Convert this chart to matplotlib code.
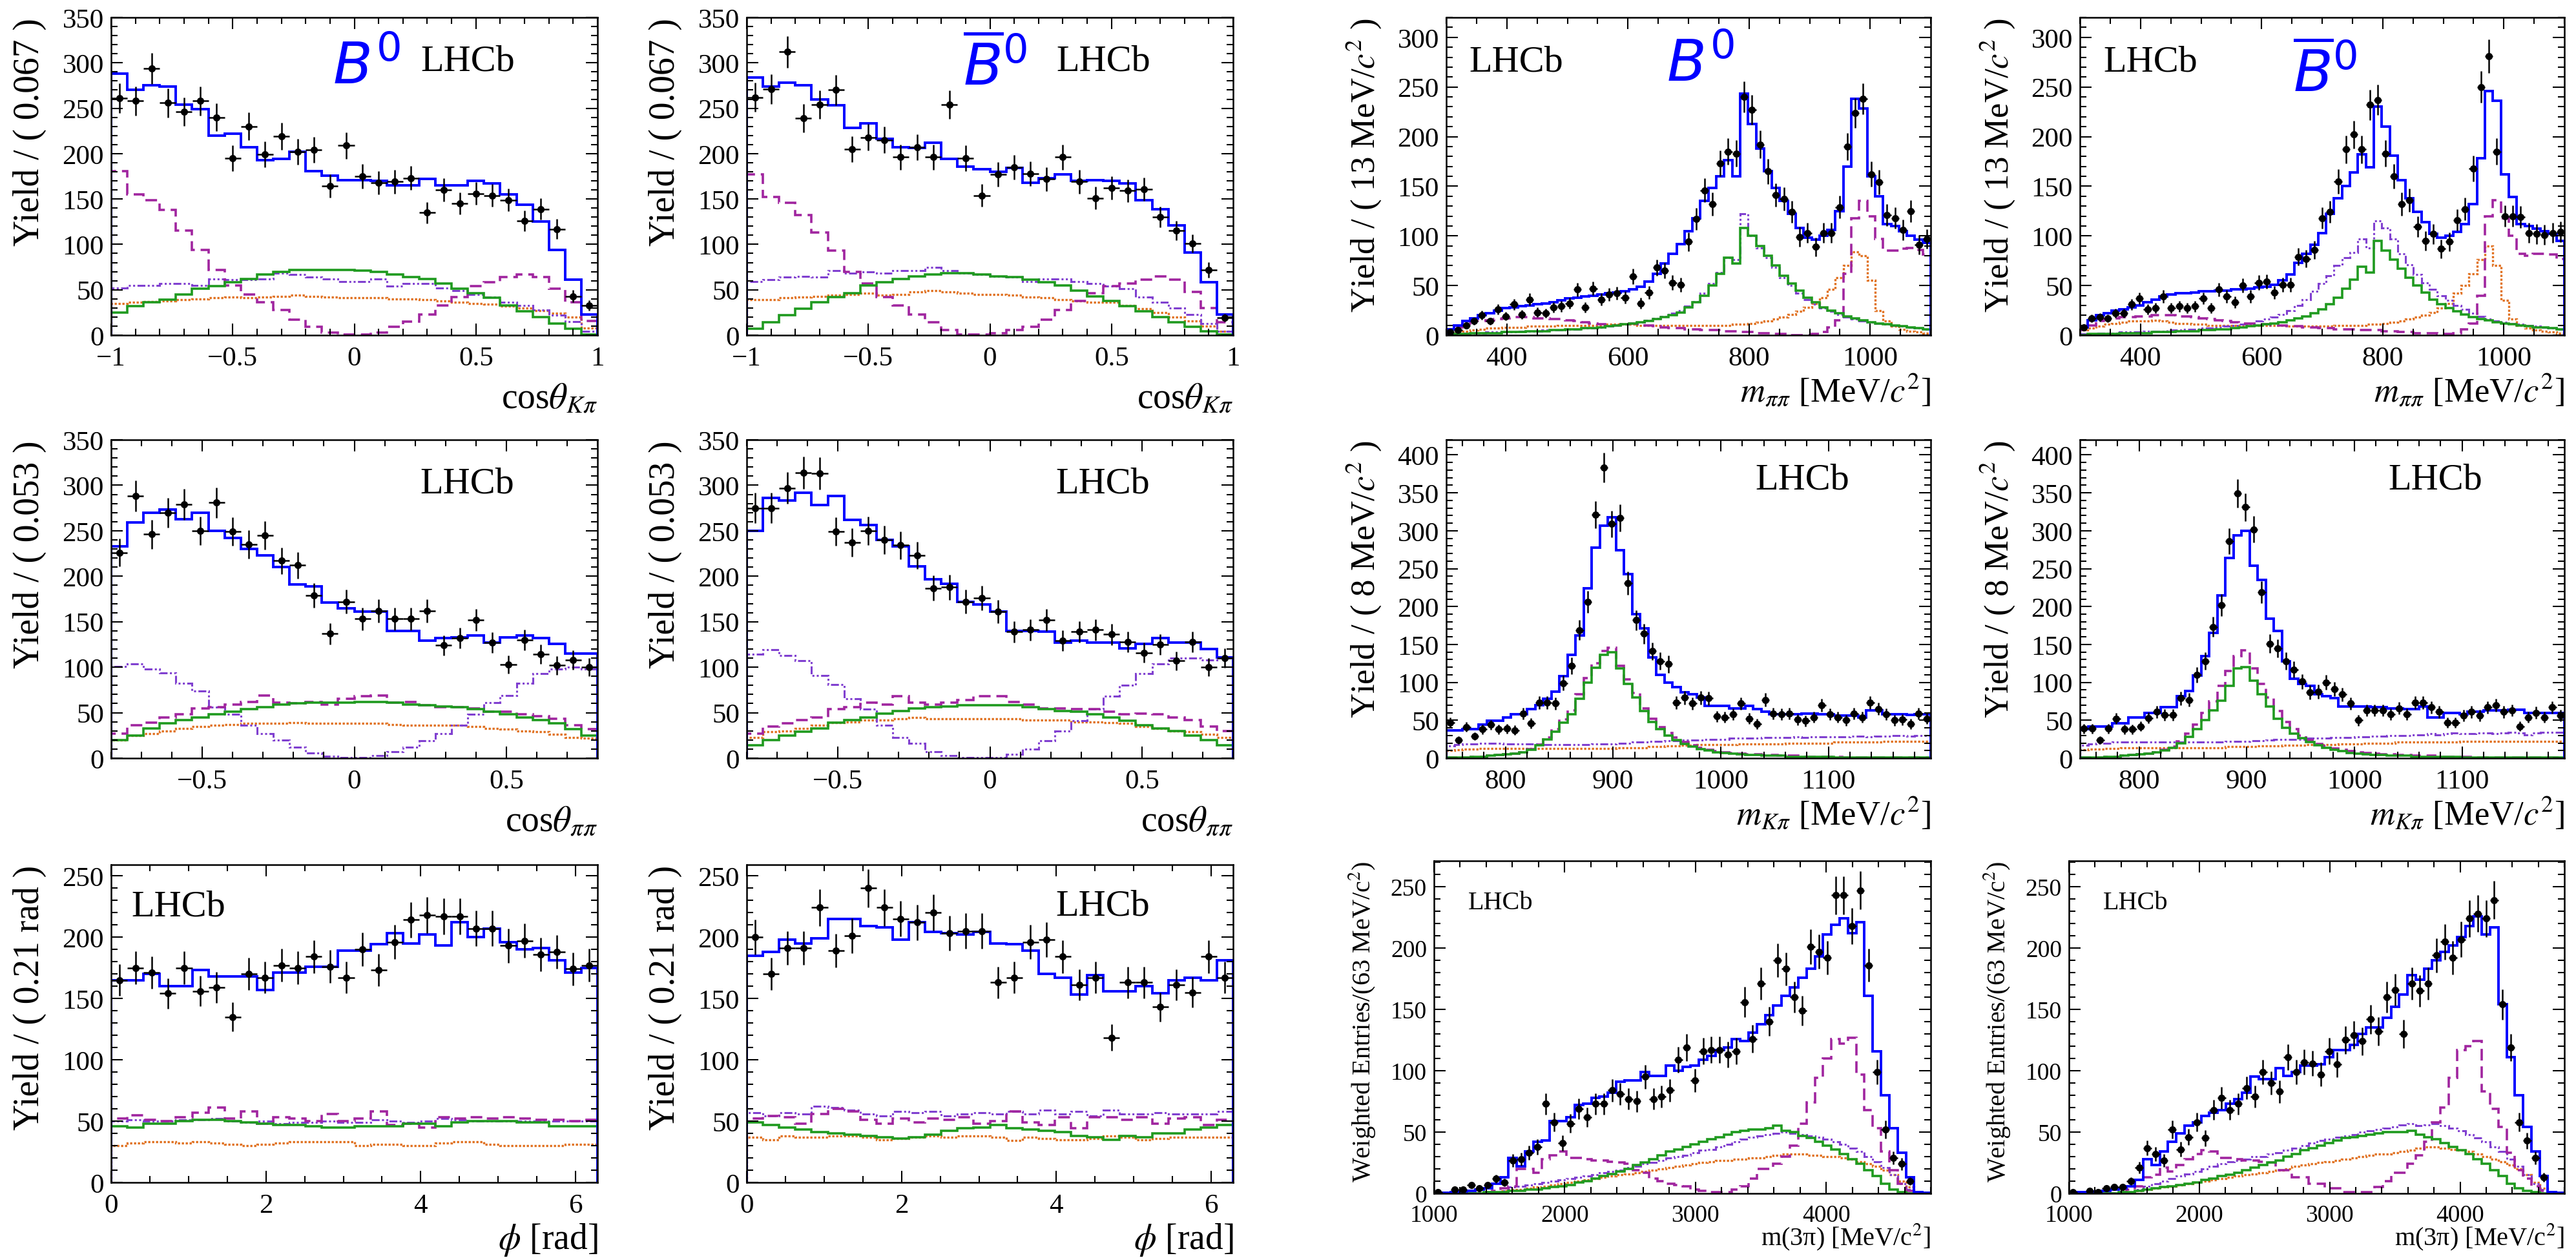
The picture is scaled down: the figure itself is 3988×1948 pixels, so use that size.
import numpy as np
import matplotlib
matplotlib.use("Agg")
import matplotlib.pyplot as plt
from matplotlib.ticker import MultipleLocator, FuncFormatter

nan = np.nan

# ---------------- cos(theta_Kpi) ----------------
ckpi_b0_data = [261, 258, 294, 256, 246, 258, 240, 195, 230, 199, 219, 202, 204, 164, 209,
                175, 168, 169, 173, 135, 160, 145, 156, 154, 149, 126, 139, 117, 43, 33]
ckpi_b0_tot = [288, 270, 275, 274, 254, 249, 220, 222, 207, 193, 194, 202, 181, 176, 171,
               171, 170, 165, 165, 172, 165, 165, 170, 167, 155, 144, 125, 94, 61, 23]
ckpi_b0_grn = [25, 32, 36, 39, 45, 51, 54, 58, 62, 67, 70, 72, 72, 72, 72,
               71, 70, 67, 64, 62, 57, 51, 46, 41, 33, 26, 20, 13, 7, 1]
ckpi_b0_mag = [181, 155, 149, 138, 115, 94, 72, 55, 45, 36, 28, 17, 9, 3, 1,
               1, 3, 9, 15, 23, 33, 42, 54, 58, 64, 67, 64, 51, 36, 16]
ckpi_b0_vio = [52, 55, 55, 57, 57, 55, 62, 61, 61, 62, 68, 67, 64, 62, 59,
               59, 62, 54, 57, 57, 52, 49, 45, 42, 36, 33, 28, 22, 15, 4]
ckpi_b0_ora = [35, 36, 37, 38, 39, 40, 41, 42, 41, 42, 43, 44, 43, 42, 41,
               41, 41, 40, 40, 39, 38, 36, 35, 34, 32, 30, 27, 24, 20, 8]

ckpi_bb_data = [262, 271, 312, 239, 254, 270, 205, 218, 215, 196, 207, 196, 254, 195, 154,
                177, 185, 178, 172, 196, 169, 151, 162, 159, 161, 130, 115, 101, 72, 19]
ckpi_bb_tot = [284, 274, 278, 275, 260, 253, 228, 233, 216, 207, 206, 212, 194, 186, 183,
               180, 184, 168, 173, 177, 170, 171, 170, 167, 149, 139, 121, 91, 58, 23]
ckpi_bb_grn = [7, 14, 22, 29, 36, 42, 46, 55, 58, 62, 65, 67, 68, 68, 67,
               65, 64, 61, 58, 55, 49, 43, 38, 32, 26, 20, 14, 9, 4, 1]
ckpi_bb_mag = [177, 152, 146, 132, 113, 93, 70, 57, 42, 33, 23, 14, 6, 1, 1,
               2, 6, 9, 17, 28, 38, 46, 54, 57, 61, 65, 61, 48, 30, 14]
ckpi_bb_vio = [59, 61, 64, 65, 64, 71, 68, 70, 68, 71, 71, 75, 71, 68, 67,
               65, 64, 59, 62, 62, 59, 57, 54, 51, 42, 36, 30, 23, 13, 4]
ckpi_bb_ora = [39, 39, 41, 42, 43, 44, 45, 46, 44, 45, 48, 49, 48, 46, 45,
               45, 44, 42, 41, 39, 38, 36, 36, 33, 29, 25, 20, 16, 10, 4]

# ---------------- m(pipi) ----------------
mpp_b0_data = [3, 5, 10, 14, 20, 14, 26, 19, 31, 21, 36, 23, 22, 28, 29, 32, 46, 28, 47, 36,
               41, 42, 38, 59, 32, 43, 68, 65, 53, 51, 94, 117, 146, 132, 173, 185, 183, 240, 227, 192,
               165, 141, 137, 124, 99, 103, 89, 103, 103, 129, 190, 224, 238, 162, 154, 121, 118, 106, 125, 91, 97]
mpp_b0_tot = [6, 10, 14, 17, 20, 22, 25, 27, 28, 29, 30, 31, 32, 33, 35, 37, 38, 39, 40, 41,
              42, 43, 44, 46, 49, 54, 62, 72, 82, 92, 105, 118, 135, 148, 160, 176, 160, 243, 213, 188,
              165, 148, 135, 122, 108, 98, 96, 100, 106, 125, 170, 238, 228, 160, 140, 112, 110, 105, 100, 96, 93]
mpp_b0_grn = [1, 1, 1, 2, 2, 2, 2, 3, 3, 3, 4, 4, 4, 5, 5, 6, 6, 7, 7, 8,
              9, 10, 11, 12, 13, 14, 16, 18, 20, 23, 28, 33, 40, 50, 62, 78, 72, 108, 100, 90,
              80, 70, 60, 52, 45, 38, 33, 28, 25, 22, 19, 17, 15, 13, 12, 11, 10, 9, 8, 7, 6]
mpp_b0_mag = [5, 8, 12, 14, 14, 15, 16, 17, 18, 18, 18, 17, 17, 16, 16, 15, 14, 13, 12, 11,
              10, 10, 11, 12, 11, 10, 9, 8, 7, 7, 6, 6, 5, 5, 5, 4, 4, 3, 3, 2,
              2, 1, 1, 0, 0, 0, 1, 3, 8, 15, 62, 118, 135, 120, 97, 85, 85, 87, 88, 86, 81]
mpp_b0_vio = [1, 1, 2, 2, 2, 3, 3, 3, 3, 4, 4, 4, 5, 5, 5, 6, 6, 7, 7, 8,
              9, 10, 11, 12, 13, 15, 17, 19, 22, 25, 29, 34, 42, 52, 63, 78, 76, 122, 100, 88,
              78, 68, 58, 50, 42, 36, 31, 27, 24, 21, 18, 16, 14, 13, 12, 11, 10, 9, 8, 7, 6]
mpp_b0_ora = [2, 3, 4, 5, 6, 7, 7, 8, 8, 8, 9, 9, 9, 9, 10, 10, 10, 10, 10, 10,
              11, 11, 11, 11, 10, 10, 10, 10, 10, 10, 10, 10, 10, 10, 10, 10, 11, 11, 12, 13,
              14, 16, 18, 21, 24, 28, 32, 38, 46, 58, 70, 84, 80, 55, 25, 14, 9, 6, 4, 3, 2]

mpp_bb_data = [8, 17, 18, 17, 22, 22, 31, 37, 26, 27, 39, 27, 29, 27, 29, 37, 27, 46, 39, 33,
               50, 39, 53, 54, 43, 51, 51, 79, 77, 86, 118, 124, 155, 187, 202, 187, 232, 237, 183, 160,
               132, 136, 109, 95, 102, 87, 94, 116, 127, 168, 250, 281, 185, 120, 120, 119, 103, 102, 101, 103, 104]
mpp_bb_tot = [8, 15, 20, 22, 25, 26, 28, 30, 33, 36, 39, 41, 42, 42, 43, 44, 44, 45, 45, 46,
              46, 47, 48, 49, 51, 55, 61, 73, 82, 91, 103, 122, 138, 150, 164, 182, 169, 230, 210, 181,
              156, 138, 124, 114, 102, 98, 100, 104, 112, 132, 178, 246, 236, 162, 139, 112, 110, 107, 105, 102, 95]
mpp_bb_grn = [0, 1, 1, 1, 1, 2, 2, 2, 2, 3, 3, 3, 4, 4, 4, 5, 5, 6, 6, 7,
              8, 9, 10, 11, 12, 13, 15, 17, 19, 22, 26, 31, 38, 47, 56, 69, 63, 95, 85, 76,
              67, 58, 50, 43, 36, 31, 27, 24, 21, 18, 16, 15, 13, 12, 11, 10, 9, 8, 8, 7, 6]
mpp_bb_mag = [5, 10, 14, 16, 17, 18, 18, 19, 19, 20, 20, 20, 19, 19, 18, 17, 16, 15, 14, 13,
              12, 12, 11, 11, 10, 10, 9, 9, 8, 8, 7, 7, 6, 6, 6, 5, 5, 5, 4, 4,
              3, 3, 2, 2, 2, 1, 1, 2, 6, 12, 40, 120, 136, 118, 100, 82, 80, 82, 82, 81, 77]
mpp_bb_vio = [1, 1, 2, 2, 2, 3, 3, 3, 4, 4, 4, 5, 5, 6, 6, 7, 7, 8, 9, 10,
              11, 12, 14, 16, 18, 21, 25, 30, 36, 44, 52, 60, 70, 78, 83, 97, 88, 115, 108, 97,
              82, 71, 61, 53, 46, 40, 35, 30, 26, 22, 19, 16, 14, 13, 12, 11, 10, 9, 8, 7, 6]
mpp_bb_ora = [5, 7, 9, 11, 12, 13, 14, 14, 14, 15, 14, 13, 12, 12, 11, 11, 10, 10, 10, 10,
              10, 10, 10, 10, 10, 10, 9, 9, 9, 9, 9, 9, 10, 10, 10, 10, 11, 11, 12, 13,
              14, 16, 18, 20, 23, 27, 32, 42, 50, 62, 76, 90, 70, 35, 16, 10, 7, 5, 4, 3, 2]

# ---------------- cos(theta_pipi) ----------------
cpp_b0_data = [226, 288, 246, 270, 279, 250, 281, 249, 235, 245, 217, 212, 179, 137, 172,
               153, 162, 153, 153, 162, 124, 132, 152, 127, 103, 130, 114, 102, 108, 100]
cpp_b0_tot = [233, 259, 270, 273, 263, 270, 250, 242, 230, 223, 210, 191, 189, 171, 165,
              161, 161, 140, 140, 129, 132, 133, 135, 127, 133, 135, 132, 126, 115, 115]
cpp_b0_grn = [20, 25, 33, 38, 42, 45, 48, 51, 54, 56, 59, 60, 61, 61, 61,
              62, 62, 61, 59, 58, 57, 56, 54, 51, 48, 45, 42, 38, 32, 25]
cpp_b0_mag = [27, 36, 39, 45, 48, 55, 56, 59, 62, 69, 61, 60, 62, 59, 65,
              68, 69, 61, 62, 58, 56, 56, 55, 51, 51, 48, 46, 43, 36, 32]
cpp_b0_vio = [101, 104, 98, 94, 82, 74, 56, 48, 36, 27, 20, 12, 6, 2, 1,
              1, 3, 7, 12, 19, 27, 36, 48, 61, 69, 82, 93, 98, 100, 98]
cpp_b0_ora = [20, 25, 27, 30, 33, 35, 36, 37, 38, 38, 38, 39, 38, 38, 38,
              38, 38, 37, 36, 36, 36, 36, 35, 33, 32, 30, 29, 26, 23, 22]

cpp_bb_data = [275, 275, 297, 314, 313, 249, 237, 250, 240, 234, 223, 187, 188, 172, 176,
               161, 139, 141, 152, 129, 139, 141, 136, 128, 116, 125, 107, 128, 100, 110]
cpp_bb_tot = [250, 286, 283, 292, 278, 288, 262, 256, 240, 233, 211, 197, 192, 172, 169,
              161, 140, 140, 139, 127, 129, 127, 127, 121, 126, 132, 127, 127, 120, 111]
cpp_bb_grn = [14, 20, 25, 29, 33, 39, 42, 45, 49, 52, 55, 56, 57, 58, 58,
              58, 58, 56, 54, 52, 51, 48, 45, 41, 36, 33, 30, 25, 20, 14]
cpp_bb_mag = [27, 35, 38, 42, 45, 54, 56, 61, 59, 68, 61, 59, 61, 64, 68,
              68, 62, 59, 55, 55, 54, 54, 51, 48, 49, 48, 45, 42, 35, 30]
cpp_bb_vio = [114, 119, 113, 107, 91, 81, 65, 54, 36, 23, 16, 7, 3, 1, 1,
              1, 4, 10, 19, 30, 41, 54, 68, 80, 93, 104, 110, 110, 108, 110]
cpp_bb_ora = [23, 29, 30, 33, 36, 39, 40, 42, 42, 43, 45, 43, 43, 43, 43,
              43, 43, 42, 42, 42, 40, 40, 39, 38, 35, 33, 30, 29, 26, 23]

# ---------------- m(Kpi) ----------------
mkp_b0_data = [47, 24, 41, 29, 38, 44, 38, 39, 37, 59, 46, 73, 73, 72, 99, 122, 169, 206, 321, 383,
               309, 317, 231, 182, 164, 141, 128, 124, 73, 80, 72, 80, 79, 55, 54, 58, 72, 52, 45, 77,
               59, 58, 59, 51, 49, 54, 70, 58, 54, 50, 59, 54, 73, 65, 58, 50, 51, 45, 59, 52]
mkp_b0_tot = [37, 37, 38, 38, 44, 49, 49, 54, 58, 58, 65, 70, 78, 88, 108, 136, 162, 224, 278, 307,
              318, 274, 243, 190, 171, 133, 110, 100, 94, 87, 84, 80, 69, 69, 69, 66, 66, 69, 65, 61,
              58, 58, 58, 58, 59, 59, 58, 58, 56, 56, 56, 54, 63, 63, 58, 58, 58, 57, 58, 58]
mkp_b0_grn = [1, 1, 1, 2, 2, 3, 4, 5, 6, 8, 11, 17, 25, 35, 47, 58, 78, 100, 119, 136,
              140, 118, 98, 80, 62, 48, 38, 30, 24, 19, 15, 12, 10, 8, 7, 6, 5, 4, 4, 3,
              3, 3, 2, 2, 2, 2, 2, 2, 1, 1, 1, 1, 1, 1, 1, 1, 1, 1, 1, 1]
mkp_b0_mag = [1, 1, 1, 2, 2, 3, 4, 5, 6, 8, 12, 18, 27, 38, 51, 63, 84, 106, 125, 141,
              146, 122, 104, 86, 66, 52, 41, 33, 27, 21, 17, 14, 11, 9, 8, 7, 6, 5, 5, 4,
              4, 3, 3, 3, 2, 2, 2, 2, 2, 1, 1, 1, 1, 1, 1, 1, 1, 1, 1, 1]
mkp_b0_vio = [16, 18, 19, 19, 20, 20, 20, 19, 19, 19, 19, 19, 18, 18, 18, 18, 18, 18, 19, 19,
              19, 20, 20, 21, 21, 22, 22, 23, 23, 24, 24, 24, 25, 25, 25, 26, 26, 26, 26, 27,
              27, 27, 27, 28, 27, 28, 28, 28, 28, 28, 29, 29, 28, 29, 29, 30, 30, 29, 30, 30]
mkp_b0_ora = [10, 11, 12, 12, 13, 13, 13, 13, 13, 13, 13, 13, 13, 13, 13, 13, 13, 13, 13, 13,
              13, 14, 14, 14, 14, 15, 15, 16, 16, 17, 17, 18, 18, 18, 18, 18, 19, 19, 19, 19,
              19, 19, 20, 20, 20, 20, 20, 20, 21, 21, 21, 21, 21, 21, 22, 22, 22, 22, 22, 22]

mkp_bb_data = [39, 39, 24, 39, 52, 38, 38, 42, 53, 61, 57, 57, 79, 77, 110, 128, 173, 202, 286, 349,
               331, 302, 219, 151, 145, 128, 117, 101, 87, 88, 100, 91, 84, 72, 50, 63, 63, 63, 58, 66,
               58, 73, 73, 67, 61, 47, 47, 56, 61, 56, 67, 70, 61, 63, 42, 54, 60, 54, 67, 56]
mkp_bb_tot = [38, 42, 42, 42, 46, 46, 54, 54, 60, 60, 67, 67, 82, 89, 109, 135, 165, 215, 264, 294,
              300, 254, 235, 184, 168, 128, 105, 98, 95, 84, 82, 79, 68, 68, 68, 68, 67, 67, 66, 66,
              65, 65, 68, 54, 54, 60, 60, 58, 61, 61, 63, 63, 63, 64, 64, 60, 60, 60, 60, 60]
mkp_bb_grn = [1, 1, 1, 2, 2, 3, 4, 5, 6, 8, 10, 14, 20, 28, 38, 50, 63, 76, 95, 118,
              120, 102, 84, 68, 52, 40, 32, 26, 21, 17, 14, 11, 9, 7, 6, 5, 4, 4, 3, 3,
              3, 2, 2, 2, 2, 2, 2, 1, 1, 1, 1, 1, 1, 1, 1, 1, 1, 1, 1, 1]
mkp_bb_mag = [1, 1, 1, 2, 2, 3, 4, 5, 6, 8, 11, 15, 22, 32, 44, 60, 75, 95, 115, 135,
              142, 118, 98, 80, 62, 48, 38, 30, 24, 19, 16, 13, 11, 9, 8, 7, 6, 5, 5, 4,
              4, 3, 3, 3, 2, 2, 2, 2, 2, 1, 1, 1, 1, 1, 1, 1, 1, 1, 1, 1]
mkp_bb_vio = [17, 19, 20, 20, 21, 21, 21, 21, 21, 21, 21, 21, 21, 21, 21, 21, 21, 21, 22, 22,
              22, 23, 23, 24, 25, 25, 25, 25, 26, 26, 26, 27, 27, 27, 28, 28, 29, 29, 30, 30,
              30, 31, 31, 32, 31, 32, 33, 32, 32, 33, 33, 32, 33, 34, 33, 31, 33, 34, 34, 34]
mkp_bb_ora = [11, 12, 12, 13, 13, 14, 14, 14, 14, 14, 14, 14, 14, 14, 14, 14, 14, 14, 15, 15,
              15, 15, 16, 16, 16, 17, 17, 17, 18, 18, 18, 18, 19, 19, 19, 20, 20, 20, 20, 21,
              21, 21, 21, 21, 21, 21, 21, 22, 22, 22, 22, 22, 22, 22, 22, 22, 22, 22, 22, 22]

# ---------------- phi ----------------
phi_b0_data = [165, 175, 171, 154, 175, 156, 159, 135, 170, 167, 177, 175, 184, 176, 167,
               190, 173, 196, 214, 218, 217, 217, 207, 207, 193, 197, 186, 188, 174, 177]
phi_b0_tot = [165, 165, 170, 160, 160, 173, 168, 168, 168, 157, 171, 171, 176, 176, 189,
              189, 194, 203, 195, 202, 193, 212, 200, 207, 196, 190, 191, 181, 171, 175]
phi_b0_grn = [46, 45, 48, 48, 50, 51, 51, 50, 49, 48, 47, 47, 46, 45, 45,
              46, 46, 46, 48, 48, 46, 49, 50, 50, 50, 49, 49, 46, 46, 46]
phi_b0_mag = [52, 55, 51, 50, 53, 57, 61, 52, 58, 48, 53, 52, 50, 56, 50,
              52, 58, 47, 48, 45, 53, 52, 53, 52, 53, 52, 51, 51, 50, 51]
phi_b0_vio = [50, 51, 50, 50, 51, 51, 52, 50, 49, 50, 48, 49, 49, 50, 49,
              49, 51, 50, 49, 50, 52, 51, 50, 50, 50, 50, 50, 50, 50, 50]
phi_b0_ora = [30, 32, 33, 33, 32, 33, 32, 31, 30, 31, 32, 33, 33, 33, 33,
              30, 31, 31, 30, 30, 32, 33, 33, 31, 30, 30, 30, 30, 31, 31]

phi_bb_data = [200, 170, 191, 191, 224, 189, 201, 240, 224, 215, 212, 220, 203, 205, 205,
               163, 167, 196, 198, 184, 161, 167, 118, 163, 163, 143, 161, 155, 184, 167]
phi_bb_tot = [185, 188, 198, 195, 199, 215, 215, 209, 208, 198, 212, 204, 203, 202, 204,
              195, 194, 189, 170, 167, 153, 169, 156, 156, 160, 154, 165, 167, 165, 181]
phi_bb_grn = [49, 47, 45, 43, 41, 40, 39, 38, 37, 36, 37, 39, 42, 44, 45,
              47, 44, 43, 42, 41, 38, 37, 35, 38, 37, 40, 40, 43, 45, 47]
phi_bb_mag = [52, 54, 53, 48, 56, 60, 58, 51, 48, 52, 49, 52, 51, 53, 48,
              50, 58, 49, 47, 53, 44, 53, 53, 51, 53, 48, 52, 53, 47, 51]
phi_bb_vio = [57, 54, 57, 56, 62, 61, 59, 56, 54, 58, 57, 58, 54, 56, 57,
              56, 58, 56, 59, 56, 58, 54, 59, 56, 56, 57, 56, 56, 56, 58]
phi_bb_ora = [37, 35, 38, 37, 37, 38, 38, 37, 35, 36, 37, 38, 37, 38, 38,
              37, 34, 37, 36, 35, 35, 36, 38, 37, 35, 36, 37, 37, 37, 37]

# ---------------- m(3pi) ----------------
m3p_b0_data = [1, nan, 3, 3, 7, 4, 7, 12, 9, 27, 28, 33, 38, 73, 58, 41, 57, 69, 62, 73,
               73, 84, 81, 77, 75, 95, 77, 79, 84, 109, 119, 92, 116, 117, 117, 113, 116, 156, 126, 171,
               140, 190, 183, 160, 149, 201, 197, 192, 243, 243, 218, 247, 186, 99, 52, 29, 24, 10, nan, nan]
m3p_b0_tot = [0.5, 0.5, 1, 1.5, 2, 3, 4, 8, 13, 29, 22, 34, 42, 43, 59, 59, 62, 72, 73, 78,
              79, 82, 91, 92, 92, 99, 96, 96, 104, 100, 103, 104, 109, 112, 117, 119, 126, 124, 131, 138,
              145, 153, 161, 168, 176, 183, 193, 211, 219, 224, 212, 221, 161, 116, 80, 53, 33, 13, 1, 0.5]
m3p_b0_grn = [0, 0, 0, 0, 0, 0, 1, 1, 1, 2, 2, 3, 3, 4, 5, 6, 7, 9, 10, 12,
              14, 16, 18, 20, 23, 25, 28, 31, 34, 36, 38, 40, 42, 44, 46, 48, 50, 51, 52, 52,
              53, 55, 51, 50, 47, 45, 42, 39, 36, 32, 28, 24, 19, 14, 8, 3, 1, 0, 0, 0]
m3p_b0_mag = [0, 0, 0, 0, 0, 0, 1, 2, 4, 6, 20, 20, 17, 28, 31, 34, 29, 29, 28, 27,
              27, 26, 25, 24, 19, 17, 12, 10, 8, 7, 6, 3, 2, 1, 1, 1, 3, 6, 12, 20,
              20, 24, 30, 39, 57, 74, 94, 110, 126, 122, 127, 97, 68, 53, 34, 19, 8, 2, 0, 0]
m3p_b0_vio = [0, 0, 0, 0, 0, 0, 0, 1, 2, 5, 6, 7, 8, 9, 10, 11, 12, 13, 14, 15,
              17, 18, 19, 21, 22, 24, 25, 27, 29, 30, 31, 33, 35, 36, 38, 40, 42, 44, 46, 47,
              48, 49, 50, 49, 48, 47, 46, 44, 42, 40, 37, 34, 30, 26, 21, 15, 8, 3, 0, 0]
m3p_b0_ora = [0, 0, 0, 0, 0, 0, 0, 1, 2, 3, 3, 4, 5, 6, 7, 8, 9, 10, 11, 12,
              13, 14, 15, 16, 17, 18, 19, 20, 21, 22, 23, 24, 25, 26, 27, 27, 28, 28, 29, 29,
              30, 31, 32, 32, 32, 31, 31, 30, 30, 29, 28, 26, 24, 22, 19, 15, 10, 5, 1, 0]

m3p_bb_data = [1, nan, 2, 1, 4, 5, 5, 10, 21, 37, 32, 27, 52, 36, 46, 58, 45, 68, 78, 68,
               73, 86, 79, 99, 90, 83, 111, 99, 107, 106, 97, 116, 105, 125, 129, 124, 142, 132, 160, 166,
               130, 171, 165, 171, 194, 205, 192, 207, 224, 228, 224, 239, 154, 119, 58, 43, 29, 13, nan, nan]
m3p_bb_tot = [0.5, 1, 1, 1.5, 2, 3, 4, 6, 11, 28, 23, 34, 42, 49, 55, 58, 63, 66, 68, 73,
              77, 82, 95, 93, 93, 102, 96, 99, 104, 104, 105, 111, 117, 117, 121, 130, 135, 135, 143, 152,
              162, 178, 174, 183, 190, 197, 202, 209, 218, 226, 211, 217, 154, 111, 80, 54, 34, 14, 1, 0.5]
m3p_bb_grn = [0, 0, 0, 0, 0, 0, 1, 1, 2, 3, 4, 5, 6, 7, 8, 9, 11, 12, 14, 15,
              17, 19, 21, 23, 25, 27, 30, 32, 35, 37, 39, 41, 43, 45, 46, 47, 48, 49, 50, 50,
              50, 51, 48, 46, 44, 41, 38, 35, 32, 28, 24, 19, 14, 8, 4, 2, 1, 0, 0, 0]
m3p_bb_mag = [0, 0, 0, 0, 0, 0, 1, 3, 6, 13, 15, 21, 18, 23, 28, 32, 35, 34, 29, 29,
              28, 27, 27, 26, 25, 19, 19, 13, 13, 8, 8, 4, 4, 1, 1, 1, 1, 5, 10, 17,
              17, 24, 31, 42, 58, 70, 94, 117, 120, 124, 83, 69, 54, 33, 19, 12, 6, 2, 0, 0]
m3p_bb_vio = [0, 0, 0, 0, 0, 0, 1, 1, 3, 6, 8, 10, 12, 14, 16, 18, 20, 22, 24, 26,
              27, 28, 30, 30, 32, 33, 35, 37, 39, 41, 43, 44, 46, 47, 48, 50, 51, 52, 53, 54,
              56, 57, 55, 56, 57, 55, 53, 51, 48, 45, 42, 38, 34, 28, 22, 15, 8, 3, 0, 0]
m3p_bb_ora = [0, 0, 0, 0, 0, 0, 0, 1, 2, 3, 4, 5, 6, 7, 8, 9, 10, 11, 12, 13,
              14, 15, 16, 17, 18, 19, 20, 22, 23, 24, 25, 26, 27, 28, 29, 30, 31, 32, 32, 33,
              34, 35, 37, 38, 38, 37, 36, 35, 34, 32, 30, 28, 26, 23, 20, 15, 9, 4, 1, 0]

# ---------------- style ----------------
plt.rcParams["font.family"] = "Liberation Serif"
plt.rcParams["mathtext.fontset"] = "stix"

BLUE = "#0000ff"
GREEN = "#1f9a1f"
MAGENTA = "#a0259f"
VIOLET = "#8040d0"
ORANGE = "#e0701e"

W, H = 3988, 1949


def frame(x0, y0, x1, y1):
    return [x0 / W, 1 - y1 / H, (x1 - x0) / W, (y1 - y0) / H]


def tick_fmt(v, pos):
    return ("%g" % v).replace("-", "\u2212")


def draw_panel(ax, lo, hi, data, tot, grn, mag, vio, ora):
    def edges(v):
        return np.linspace(lo, hi, len(v) + 1)

    ax.stairs(ora, edges(ora), baseline=0, color=ORANGE, lw=2.4, ls=(0, (1, 0.8)))
    ax.stairs(vio, edges(vio), baseline=0, color=VIOLET, lw=2.2, ls=(0, (4, 1.2, 1, 1.2, 1, 1.2)))
    ax.stairs(mag, edges(mag), baseline=0, color=MAGENTA, lw=2.6, ls=(0, (5, 2.5)))
    ax.stairs(grn, edges(grn), baseline=0, color=GREEN, lw=2.6)
    ax.stairs(tot, edges(tot), baseline=0, color=BLUE, lw=2.8)

    e = edges(data)
    xc = 0.5 * (e[1:] + e[:-1])
    hw = 0.5 * (e[1] - e[0])
    y = np.asarray(data, float)
    ok = ~np.isnan(y)
    ax.errorbar(xc[ok], y[ok], yerr=np.sqrt(np.maximum(y[ok], 1)), xerr=hw,
                fmt="o", ms=7, color="k", elinewidth=1.8, capsize=0, zorder=5)
    ax.set_xlim(lo, hi)


fig = plt.figure(figsize=(W / 100, H / 100), dpi=100)

R0 = (28, 520)
R1 = (682, 1175)
R2 = (1340, 1832)
R2m = (1334, 1849)
C0 = (172, 925)
C1 = (1156, 1909)
C2 = (2239, 2989)
C3 = (3220, 3970)
C2m = (2220, 2989)
C3m = (3203, 3970)

ylab_ckpi = "Yield / ( 0.067 )"
ylab_cpp = "Yield / ( 0.053 )"
ylab_phi = "Yield / ( 0.21 rad )"
ylab_mpp = r"Yield / ( 13 MeV/$c^{2}$ )"
ylab_mkp = r"Yield / ( 8 MeV/$c^{2}$ )"
ylab_m3p = r"Weighted Entries/(63 MeV/c$^{2}$)"

panels = [
    dict(col=C0, row=R0, lo=-1, hi=1, ylim=350, series=(ckpi_b0_data, ckpi_b0_tot, ckpi_b0_grn, ckpi_b0_mag, ckpi_b0_vio, ckpi_b0_ora),
         xl=r"cos$\theta_{K\pi}$", yl=ylab_ckpi, xmaj=0.5, xmin=0.1, lhcb=(0.636, 0.862), tag=r"$B^0$", tagpos=(0.455, 0.84), kind="ang"),
    dict(col=C1, row=R0, lo=-1, hi=1, ylim=350, series=(ckpi_bb_data, ckpi_bb_tot, ckpi_bb_grn, ckpi_bb_mag, ckpi_bb_vio, ckpi_bb_ora),
         xl=r"cos$\theta_{K\pi}$", yl=ylab_ckpi, xmaj=0.5, xmin=0.1, lhcb=(0.636, 0.862), tag=r"$\overline{B}^0$", tagpos=(0.445, 0.84), kind="ang"),
    dict(col=C2, row=R0, lo=300, hi=1100, ylim=320, series=(mpp_b0_data, mpp_b0_tot, mpp_b0_grn, mpp_b0_mag, mpp_b0_vio, mpp_b0_ora),
         xl=r"$m_{\pi\pi}$ [MeV/$c^{2}$]", yl=ylab_mpp, xmaj=200, xmin=50, lhcb=(0.047, 0.861), tag=r"$B^0$", tagpos=(0.455, 0.849), kind="mass"),
    dict(col=C3, row=R0, lo=300, hi=1100, ylim=320, series=(mpp_bb_data, mpp_bb_tot, mpp_bb_grn, mpp_bb_mag, mpp_bb_vio, mpp_bb_ora),
         xl=r"$m_{\pi\pi}$ [MeV/$c^{2}$]", yl=ylab_mpp, xmaj=200, xmin=50, lhcb=(0.048, 0.861), tag=r"$\overline{B}^0$", tagpos=(0.44, 0.82), kind="mass"),
    dict(col=C0, row=R1, lo=-0.8, hi=0.8, ylim=350, series=(cpp_b0_data, cpp_b0_tot, cpp_b0_grn, cpp_b0_mag, cpp_b0_vio, cpp_b0_ora),
         xl=r"cos$\theta_{\pi\pi}$", yl=ylab_cpp, xmaj=0.5, xmin=0.1, lhcb=(0.635, 0.864), tag=None, kind="ang"),
    dict(col=C1, row=R1, lo=-0.8, hi=0.8, ylim=350, series=(cpp_bb_data, cpp_bb_tot, cpp_bb_grn, cpp_bb_mag, cpp_bb_vio, cpp_bb_ora),
         xl=r"cos$\theta_{\pi\pi}$", yl=ylab_cpp, xmaj=0.5, xmin=0.1, lhcb=(0.635, 0.864), tag=None, kind="ang"),
    dict(col=C2, row=R1, lo=745, hi=1195, ylim=420, series=(mkp_b0_data, mkp_b0_tot, mkp_b0_grn, mkp_b0_mag, mkp_b0_vio, mkp_b0_ora),
         xl=r"$m_{K\pi}$ [MeV/$c^{2}$]", yl=ylab_mkp, xmaj=100, xmin=20, lhcb=(0.638, 0.876), tag=None, kind="mass"),
    dict(col=C3, row=R1, lo=745, hi=1195, ylim=420, series=(mkp_bb_data, mkp_bb_tot, mkp_bb_grn, mkp_bb_mag, mkp_bb_vio, mkp_bb_ora),
         xl=r"$m_{K\pi}$ [MeV/$c^{2}$]", yl=ylab_mkp, xmaj=100, xmin=20, lhcb=(0.637, 0.876), tag=None, kind="mass"),
    dict(col=C0, row=R2, lo=0, hi=2 * np.pi, ylim=259, series=(phi_b0_data, phi_b0_tot, phi_b0_grn, phi_b0_mag, phi_b0_vio, phi_b0_ora),
         xl=r"$\phi$ [rad]", yl=ylab_phi, xmaj=2, xmin=0.5, lhcb=(0.042, 0.868), tag=None, kind="phi"),
    dict(col=C1, row=R2, lo=0, hi=2 * np.pi, ylim=259, series=(phi_bb_data, phi_bb_tot, phi_bb_grn, phi_bb_mag, phi_bb_vio, phi_bb_ora),
         xl=r"$\phi$ [rad]", yl=ylab_phi, xmaj=2, xmin=0.5, lhcb=(0.635, 0.87), tag=None, kind="phi"),
    dict(col=C2m, row=R2m, lo=1000, hi=4800, ylim=271, series=(m3p_b0_data, m3p_b0_tot, m3p_b0_grn, m3p_b0_mag, m3p_b0_vio, m3p_b0_ora),
         xl=r"m(3π) [MeV/c$^{2}$]", yl=ylab_m3p, xmaj=1000, xmin=200, lhcb=(0.069, 0.875), tag=None, kind="3pi"),
    dict(col=C3m, row=R2m, lo=1000, hi=4800, ylim=271, series=(m3p_bb_data, m3p_bb_tot, m3p_bb_grn, m3p_bb_mag, m3p_bb_vio, m3p_bb_ora),
         xl=r"m(3π) [MeV/c$^{2}$]", yl=ylab_m3p, xmaj=1000, xmin=200, lhcb=(0.069, 0.875), tag=None, kind="3pi"),
]

# font sizes and label offsets (pixels) per panel type
sizes = {
    "ang": dict(tick=31, lab=40, lhcb=42, ylx=-100, xly=-98),
    "mass": dict(tick=31, lab=38, lhcb=42, ylx=-98, xly=-85),
    "phi": dict(tick=31, lab=40, lhcb=42, ylx=-100, xly=-88),
    "3pi": dict(tick=27, lab=29, lhcb=29, ylx=-88, xly=-67),
}

for p in panels:
    (x0, x1), (y0, y1) = p["col"], p["row"]
    ax = fig.add_axes(frame(x0, y0, x1, y1))
    draw_panel(ax, p["lo"], p["hi"], *p["series"])
    s = sizes[p["kind"]]
    ax.set_ylim(0, p["ylim"])

    ax.xaxis.set_major_locator(MultipleLocator(p["xmaj"]))
    ax.xaxis.set_minor_locator(MultipleLocator(p["xmin"]))
    ax.yaxis.set_major_locator(MultipleLocator(50))
    ax.yaxis.set_minor_locator(MultipleLocator(10))
    ax.xaxis.set_major_formatter(FuncFormatter(tick_fmt))
    ax.tick_params(which="both", direction="in", top=True, right=True, width=1.5)
    ax.tick_params(which="major", length=13, labelsize=s["tick"])
    ax.tick_params(which="minor", length=7)
    ax.tick_params(axis="x", pad=12)
    ax.tick_params(axis="y", pad=8)
    for sp in ax.spines.values():
        sp.set_linewidth(1.8)

    ax.set_ylabel(p["yl"], fontsize=s["lab"], loc="top")
    ax.yaxis.set_label_coords(s["ylx"] / (x1 - x0), 1.0)
    ax.set_xlabel(p["xl"], fontsize=s["lab"], loc="right")
    ax.xaxis.label.set_va("center")
    ax.xaxis.set_label_coords(1.0, s["xly"] / (y1 - y0))

    ax.text(p["lhcb"][0], p["lhcb"][1], "LHCb", transform=ax.transAxes,
            fontsize=s["lhcb"], ha="left", va="center")
    if p["tag"]:
        ax.text(p["tagpos"][0], p["tagpos"][1], p["tag"], transform=ax.transAxes,
                fontsize=64, color=BLUE, ha="left", va="center", math_fontfamily="dejavusans")

fig.savefig("out.png", dpi=100)
